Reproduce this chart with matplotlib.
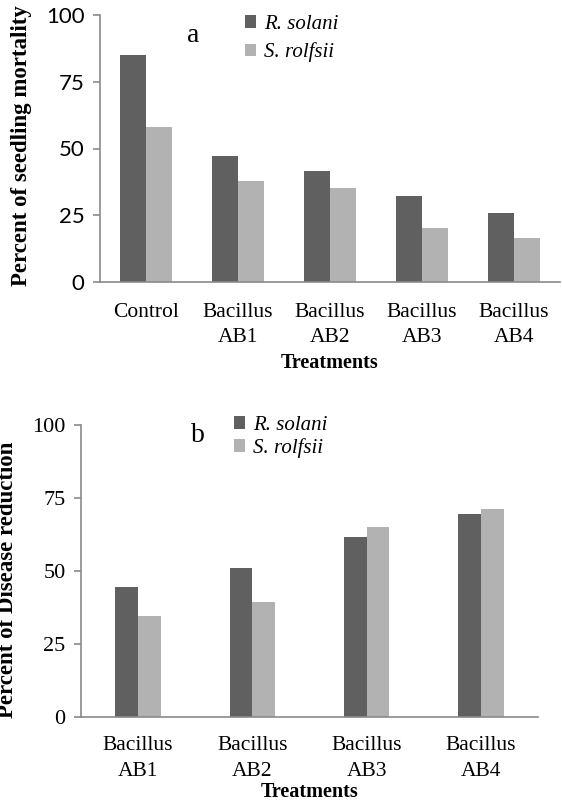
import numpy as np
import matplotlib
matplotlib.use('Agg')
import matplotlib.pyplot as plt

# panel a - seedling mortality
cats_a = ['Control', 'Bacillus\nAB1', 'Bacillus\nAB2', 'Bacillus\nAB3', 'Bacillus\nAB4']
rsolani_a = [85.0, 47.1, 41.6, 32.2, 25.7]
srolfsii_a = [58.0, 37.8, 35.1, 20.3, 16.6]

# panel b - disease reduction
cats_b = ['Bacillus\nAB1', 'Bacillus\nAB2', 'Bacillus\nAB3', 'Bacillus\nAB4']
rsolani_b = [44.4, 51.0, 61.7, 69.4]
srolfsii_b = [34.6, 39.4, 65.0, 71.2]

yticks = [0, 25, 50, 75, 100]
series = ['R. solani', 'S. rolfsii']

dark = '#606060'
light = '#b2b2b2'
axcol = '#8a8a8a'
serif = 'Liberation Serif'

plt.rcParams['font.family'] = 'serif'
plt.rcParams['font.serif'] = [serif, 'DejaVu Serif']

W, H = 562, 809
fig = plt.figure(figsize=(W / 100., H / 100.), dpi=100)

def box(l, t, r, b):
    return [l / W, 1 - b / H, (r - l) / W, (b - t) / H]

def panel(ax, cats, v1, v2, width, tickfont, letter, letterpos, legpos, lspace, xpad, lpad):
    x = np.arange(len(cats))
    b1 = ax.bar(x - width / 2, v1, width, color=dark, label=series[0])
    b2 = ax.bar(x + width / 2, v2, width, color=light, label=series[1])
    ax.set_xlim(-0.5, len(cats) - 0.5)
    ax.set_ylim(0, 100)
    ax.set_yticks(yticks)
    ax.set_xticks(x, cats)

    for s in ['top', 'right']:
        ax.spines[s].set_visible(False)
    for s in ['left', 'bottom']:
        ax.spines[s].set_color(axcol)
        ax.spines[s].set_linewidth(1.2)
    ax.tick_params(axis='y', direction='out', length=5, color=axcol, width=1.2,
                   pad=6, labelsize=16)
    ax.tick_params(axis='x', length=0, pad=xpad, labelsize=15.5)
    for lab in ax.get_yticklabels():
        lab.set_fontfamily(tickfont)
    for lab in ax.get_xticklabels():
        lab.set_linespacing(1.45)

    ax.set_xlabel('Treatments', size=14.5, weight='bold', labelpad=lpad)
    ax.legend(handles=[b1, b2], loc='upper left', frameon=False,
              bbox_to_anchor=(legpos[0] / W, 1 - legpos[1] / H),
              bbox_transform=fig.transFigure,
              prop={'style': 'italic', 'size': 15},
              handlelength=0.55, handleheight=0.55, handletextpad=0.35,
              labelspacing=lspace, borderaxespad=0, borderpad=0)
    fig.text(letterpos[0] / W, 1 - letterpos[1] / H, letter,
             size=20, ha='center', va='center')
    return ax

ax1 = fig.add_axes(box(100, 15, 560, 282))
panel(ax1, cats_a, rsolani_a, srolfsii_a, 0.283, 'Lato', 'a', (193, 35), (245, 15), 0.4, 15, 4)
fig.text(22 / W, 1 - 146 / H, 'Percent of seedling mortality', rotation=90,
         size=16.5, weight='bold', ha='center', va='center')

ax2 = fig.add_axes(box(81, 425, 538, 717))
panel(ax2, cats_b, rsolani_b, srolfsii_b, 0.2, serif, 'b', (198, 436), (234, 416), 0.15, 14, 1)
fig.text(8 / W, 1 - 580 / H, 'Percent of Disease reduction', rotation=90,
         size=16.5, weight='bold', ha='center', va='center')

fig.savefig('out.png', dpi=100)
